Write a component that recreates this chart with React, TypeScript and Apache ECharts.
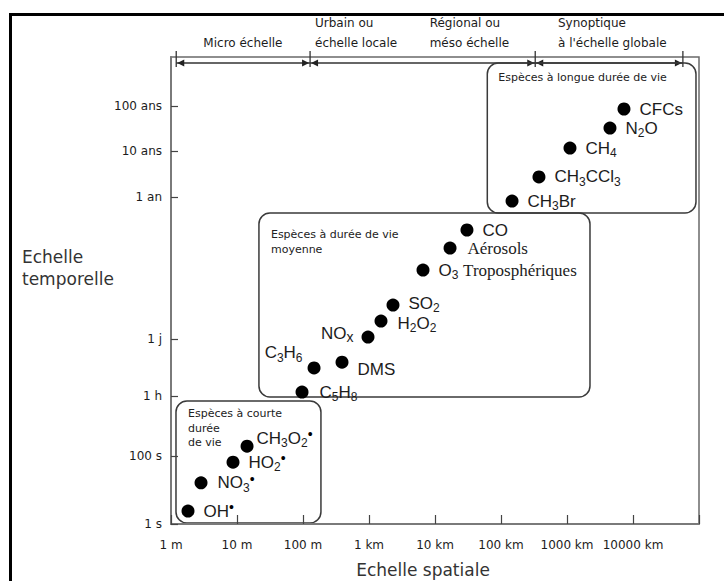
import React, { useEffect, useRef } from 'react';
import * as echarts from 'echarts';

// ---------- DATA ----------
const xTickLabels = ['1 m', '10 m', '100 m', '1 km', '10 km', '100 km', '1000 km', '10000 km'];
const timeTickLabels = ['1 s', '100 s', '1 h', '1 j', '1 an', '10 ans', '100 ans'];
// schematic (non-uniform) time positions, one unit ≈ one "decade" of the lower scale
const timeTickPositions = [0, 2.0, 3.76, 5.44, 9.62, 10.97, 12.29];
const timeAxisMax = 13.74;
const scaleAxisMin = 1;
const scaleAxisMax = 1e8;

const scaleBandLabels = [['Micro échelle'], ['Urbain ou', 'échelle locale'], ['Régional ou', 'méso échelle'], ['Synoptique', "à l'échelle globale"]];
const scaleBandLabelAt = [12.3, 152, 8300, 7.3e5]; // metres
const scaleBandEdges = [1.2, 128, 3.3e5, 5.7e7]; // metres

const shortNames = ['OH•', 'NO3•', 'HO2•', 'CH3O2•'];
const shortScale = [1.81, 2.85, 8.7, 14.2];
const shortTime = [0.38, 1.21, 1.82, 2.29];

const mediumNames = ['C5H8', 'C3H6', 'DMS', 'NOx', 'H2O2', 'SO2', 'O3 Troposphériques', 'Aérosols', 'CO'];
const mediumScale = [96.6, 147, 390, 966, 1520, 2310, 6580, 16900, 30500];
const mediumTime = [3.88, 4.59, 4.76, 5.5, 5.97, 6.44, 7.47, 8.12, 8.65];

const longNames = ['CH3Br', 'CH3CCl3', 'CH4', 'N2O', 'CFCs'];
const longScale = [1.47e5, 3.76e5, 1.11e6, 4.48e6, 7.3e6];
const longTime = [9.5, 10.21, 11.06, 11.65, 12.21];

const groupTitles = [['Espèces à courte', 'durée', 'de vie'], ['Espèces à durée de vie', 'moyenne'], ['Espèces à longue durée de vie']];
const groupScaleExtent = [[1.19, 187], [21.5, 2.23e6], [6.2e4, 9.0e7]];
const groupTimeExtent = [[0.03, 3.62], [3.74, 9.15], [9.15, 13.56]];

// rich-text markup of the species labels (subscripts / radical dots)
const labelMarkup: Record<string, string> = {
  'OH•': 'OH{p|•}',
  'NO3•': 'NO{s|3}{p|•}',
  'HO2•': 'HO{s|2}{p|•}',
  'CH3O2•': 'CH{s|3}O{s|2}{p|•}',
  'C5H8': 'C{s|5}H{s|8}',
  'C3H6': 'C{s|3}H{s|6}',
  'DMS': 'DMS',
  'NOx': 'NO{x|x}',
  'H2O2': 'H{s|2}O{s|2}',
  'SO2': 'SO{s|2}',
  'O3 Troposphériques': 'O{s|3} {r|Troposphériques}',
  'Aérosols': '{r|Aérosols}',
  'CO': 'CO',
  'CH3Br': 'CH{s|3}Br',
  'CH3CCl3': 'CH{s|3}CCl{s|3}',
  'CH4': 'CH{s|4}',
  'N2O': 'N{s|2}O',
  'CFCs': 'CFCs',
};

// ---------- LAYOUT / STYLE ----------
const labelLayout: Record<string, any> = {
  'CH3O2•': { distance: 3, offset: [0, -8] },
  'NO3•': { distance: 10 },
  'C5H8': { distance: 11 },
  'C3H6': { position: 'left', distance: 5, offset: [0, -15] },
  'DMS': { offset: [0, 7] },
  'NOx': { position: 'left', distance: 8, offset: [0, -4] },
  'H2O2': { distance: 10, offset: [0, 2] },
  'SO2': { offset: [0, -2] },
  'Aérosols': { distance: 11 },
};
const groupTitleOffset = [[12, 13, 14.5], [12, 21, 15], [11, 14, 15]];

const TXT = '#1c1c1c';

export default function App() {
  const ref = useRef<HTMLDivElement>(null);

  useEffect(() => {
    const el = ref.current!;
    const chart = echarts.init(el, null, { renderer: 'svg' });

    const mk = (names: string[], xs: number[], ys: number[]) =>
      names.map((n, i) => ({ name: n, value: [xs[i], ys[i]], label: labelLayout[n] }));

    const seriesBase = {
      type: 'scatter',
      symbol: 'circle',
      symbolSize: 13,
      itemStyle: { color: '#000', opacity: 1 },
      emphasis: { disabled: true },
      clip: false,
      z: 5,
      label: {
        show: true,
        position: 'right',
        distance: 9,
        formatter: (p: any) => labelMarkup[p.name] ?? p.name,
        fontFamily: 'Liberation Sans',
        fontSize: 17,
        lineHeight: 22,
        color: TXT,
        rich: {
          s: { fontFamily: 'Liberation Sans', fontSize: 12, lineHeight: 6, verticalAlign: 'bottom', color: TXT },
          p: { fontFamily: 'Liberation Sans', fontSize: 14, lineHeight: 6, verticalAlign: 'top', color: '#000' },
          x: { fontFamily: 'Liberation Sans', fontSize: 14, lineHeight: 12, verticalAlign: 'bottom', color: TXT },
          r: { fontFamily: 'Liberation Serif', fontSize: 17, lineHeight: 22, color: TXT },
        },
      },
    };

    const timeLabel = (v: number) => {
      const i = timeTickPositions.findIndex((t) => Math.abs(t - v) < 1e-6);
      return i >= 0 ? timeTickLabels[i] : '';
    };

    chart.setOption({
      animation: false,
      backgroundColor: '#fff',
      textStyle: { fontFamily: 'DejaVu Sans' },
      grid: {
        left: 171, right: 25, top: 57, bottom: 57,
        show: true, borderColor: '#6a6a6a', borderWidth: 1.5, backgroundColor: 'transparent',
      },
      xAxis: {
        type: 'log',
        logBase: 10,
        min: scaleAxisMin,
        max: scaleAxisMax,
        splitNumber: 8,
        axisLine: { show: true, lineStyle: { color: '#7a7a7a', width: 2 } },
        axisTick: { show: true, inside: true, length: 9, lineStyle: { color: '#444', width: 1.2 } },
        minorTick: { show: false },
        splitLine: { show: false },
        axisLabel: {
          margin: 15,
          fontFamily: 'DejaVu Sans',
          fontSize: 12,
          color: TXT,
          formatter: (v: number) => xTickLabels[Math.round(Math.log10(v))] ?? '',
        },
      },
      yAxis: {
        type: 'value',
        min: 0,
        max: timeAxisMax,
        axisLine: { show: true, lineStyle: { color: '#7a7a7a', width: 2 } },
        axisTick: { show: true, inside: true, length: 7, customValues: timeTickPositions, lineStyle: { color: '#444', width: 1.2 } },
        splitLine: { show: false },
        axisLabel: {
          customValues: timeTickPositions,
          margin: 9,
          fontFamily: 'DejaVu Sans',
          fontSize: 12,
          color: TXT,
          formatter: timeLabel,
        },
      },
      series: [
        { ...seriesBase, name: 'courte', data: mk(shortNames, shortScale, shortTime) },
        { ...seriesBase, name: 'moyenne', data: mk(mediumNames, mediumScale, mediumTime) },
        { ...seriesBase, name: 'longue', data: mk(longNames, longScale, longTime) },
      ],
    });

    const px = (x: number, y: number) => chart.convertToPixel({ gridIndex: 0 }, [x, y]) as number[];
    const elements: any[] = [];

    // outer black frame
    elements.push({
      type: 'rect', silent: true,
      shape: { x: 10.5, y: 14.5, width: 800, height: 700 },
      style: { fill: 'none', stroke: '#000', lineWidth: 3 },
    });

    // scale bands (arrows) on top
    const arrowY = 63;
    const edgeX = scaleBandEdges.map((m) => px(m, 0)[0]);
    elements.push({
      type: 'line', silent: true,
      shape: { x1: edgeX[0], y1: arrowY, x2: edgeX[edgeX.length - 1], y2: arrowY },
      style: { stroke: '#333', lineWidth: 1.3 },
    });
    edgeX.forEach((x, i) => {
      elements.push({
        type: 'line', silent: true,
        shape: { x1: x, y1: arrowY - 12, x2: x, y2: arrowY + 4 },
        style: { stroke: '#333', lineWidth: 1.3 },
      });
      if (i < edgeX.length - 1) {
        elements.push({
          type: 'polygon', silent: true,
          shape: { points: [[x + 1, arrowY], [x + 8, arrowY - 3.5], [x + 8, arrowY + 3.5]] },
          style: { fill: '#222' },
        });
      }
      if (i > 0) {
        elements.push({
          type: 'polygon', silent: true,
          shape: { points: [[x - 1, arrowY], [x - 8, arrowY - 3.5], [x - 8, arrowY + 3.5]] },
          style: { fill: '#222' },
        });
      }
    });
    scaleBandLabels.forEach((rows, i) => {
      const x = px(scaleBandLabelAt[i], 0)[0];
      const align = i === 0 ? 'center' : 'left';
      const ys = rows.length === 1 ? [43] : [23, 43];
      rows.forEach((t, j) => {
        elements.push({
          type: 'text', silent: true, x, y: ys[j],
          style: {
            text: t, fill: TXT, fontFamily: 'DejaVu Sans', fontSize: 12,
            align, textAlign: align, verticalAlign: 'middle', textVerticalAlign: 'middle',
          },
        });
      });
    });

    // species group boxes
    groupScaleExtent.forEach((ext, i) => {
      const tl = px(ext[0], groupTimeExtent[i][1]);
      const br = px(ext[1], groupTimeExtent[i][0]);
      elements.push({
        type: 'rect', silent: true,
        shape: { x: tl[0], y: tl[1], width: br[0] - tl[0], height: br[1] - tl[1], r: 11 },
        style: { fill: 'none', stroke: '#3a3a3a', lineWidth: 1.5 },
      });
      const [dx, dy, lh] = groupTitleOffset[i];
      groupTitles[i].forEach((t, j) => {
        elements.push({
          type: 'text', silent: true, x: tl[0] + dx, y: tl[1] + dy + j * lh,
          style: {
            text: t, fill: '#222', fontFamily: 'DejaVu Sans', fontSize: 11,
            align: 'left', textAlign: 'left', verticalAlign: 'middle', textVerticalAlign: 'middle',
          },
        });
      });
    });

    // axis titles
    elements.push({
      type: 'text', silent: true, x: 423, y: 570,
      style: {
        text: 'Echelle spatiale', fill: '#333', fontFamily: 'DejaVu Sans', fontSize: 17,
        align: 'center', textAlign: 'center', verticalAlign: 'middle', textVerticalAlign: 'middle',
      },
    });
    ['Echelle', 'temporelle'].forEach((t, j) => {
      elements.push({
        type: 'text', silent: true, x: 22, y: 257 + j * 22,
        style: {
          text: t, fill: '#333', fontFamily: 'DejaVu Sans', fontSize: 17,
          align: 'left', textAlign: 'left', verticalAlign: 'middle', textVerticalAlign: 'middle',
        },
      });
    });

    chart.setOption({ graphic: { elements } });

    return () => chart.dispose();
  }, []);

  return (
    <div
      ref={ref}
      style={{ position: 'fixed', left: 0, top: 0, width: 724, height: 581, background: '#fff' }}
    />
  );
}
